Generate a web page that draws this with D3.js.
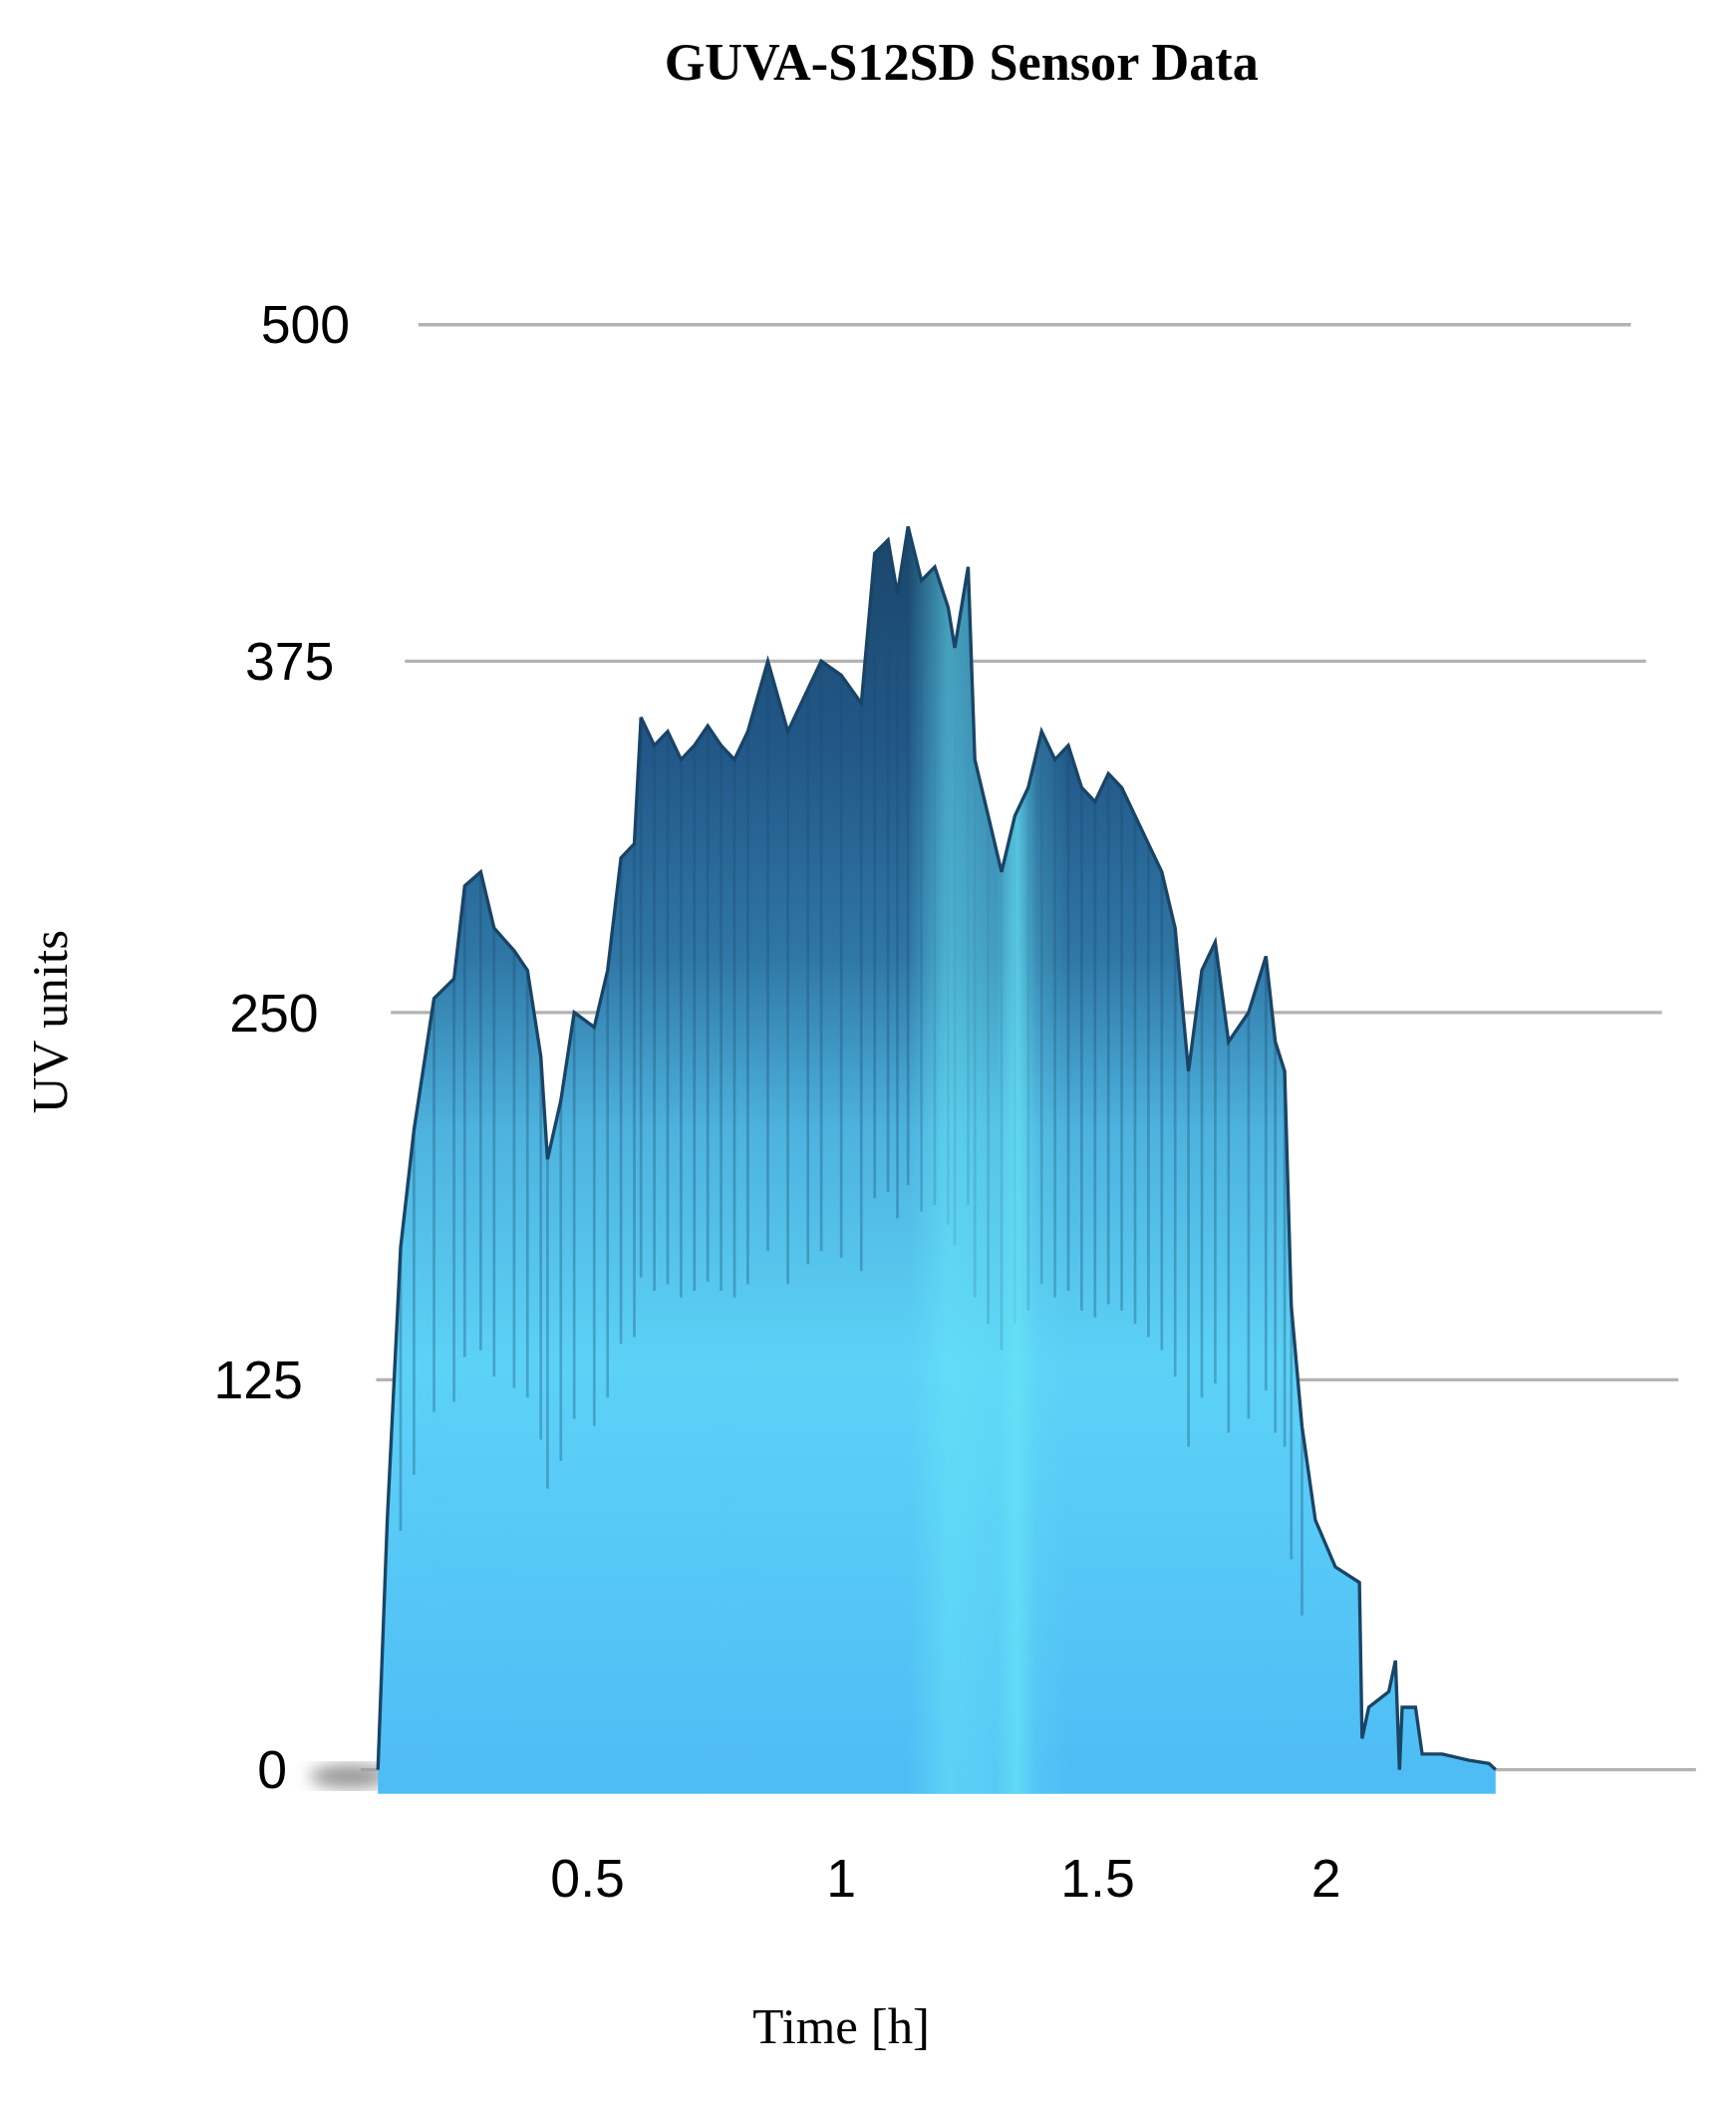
<!DOCTYPE html>
<html>
<head>
<meta charset="utf-8">
<script src="https://cdn.jsdelivr.net/npm/d3@7"></script>
<style>
  html, body { margin: 0; padding: 0; background: #fff; }
</style>
</head>
<body>
<div id="chart"></div>
<script>
// UV reading (display-x sample position converted to hours below)
var sampleX = [283, 290, 300, 310, 325, 340, 348, 360, 370, 385, 395, 405, 410, 420, 430, 445, 455, 465, 475, 480,
  490, 500, 510, 520, 530, 540, 550, 560, 575, 590, 605, 615, 630, 645, 655, 665, 672, 680, 690, 700, 710, 715, 725,
  730, 740, 750, 760, 770, 780, 790, 800, 810, 820, 830, 840, 850, 860, 870, 880, 890, 900, 910, 920, 935, 948, 955,
  962, 967, 975, 985, 1000, 1018, 1020, 1025, 1040, 1045, 1048, 1050, 1060, 1065, 1080, 1100, 1115, 1120];
var uvValues = [0, 80, 170, 210, 255, 262, 295, 300, 280, 272, 265, 235, 200, 220, 250, 245, 265, 305, 310, 355,
  345, 350, 340, 345, 352, 345, 340, 350, 375, 350, 365, 375, 370, 360, 415, 420, 400, 425, 405, 410, 395, 380, 410,
  340, 320, 300, 320, 330, 350, 340, 345, 330, 325, 335, 330, 320, 310, 300, 280, 230, 265, 275, 240, 250, 270, 240,
  230, 150, 110, 80, 65, 60, 10, 20, 25, 35, 0, 20, 20, 5, 5, 3, 2, 0];
var yTicks = [0, 125, 250, 375, 500];
var xTicks = [0.5, 1, 1.5, 2];

var W = 1300, H = 1576;
var svg = d3.select("#chart").append("svg")
  .attr("width", 1742).attr("height", 2112)
  .attr("viewBox", "0 0 " + W + " " + H);

// perspective-like spacing of the original
var y = d3.scaleLinear().domain(yTicks).range([1325, 1033, 758, 495, 243]);
var x = d3.scaleLinear().domain([0, 0.5, 1, 1.5, 2, 2.5]).range([250, 440, 630, 822, 993, 1163]);
var data = sampleX.map(function (px, i) { return { t: x.invert(px), v: uvValues[i] }; });

var defs = svg.append("defs");
var grad = defs.append("linearGradient").attr("id", "fillGrad")
  .attr("gradientUnits", "userSpaceOnUse")
  .attr("x1", 0).attr("x2", 0).attr("y1", y(0)).attr("y2", y(430));
[[0, "#4fbdf5"], [130, "#5cd2f7"], [210, "#4db3de"], [270, "#2f77a5"], [340, "#22598a"], [430, "#1a4568"]]
  .forEach(function (s) {
    grad.append("stop").attr("offset", (y(0) - y(s[0])) / (y(0) - y(430))).attr("stop-color", s[1]);
  });
// lighter band in the middle of the record
var band = defs.append("linearGradient").attr("id", "bandGrad")
  .attr("gradientUnits", "userSpaceOnUse")
  .attr("x1", 680).attr("x2", 800).attr("y1", 0).attr("y2", 0);
[[0, 0], [0.25, 0.55], [0.55, 0.35], [0.68, 0.75], [0.8, 0.2], [1, 0]].forEach(function (s) {
  band.append("stop").attr("offset", s[0]).attr("stop-color", "#66e4f7").attr("stop-opacity", s[1]);
});
var blur = defs.append("filter").attr("id", "blur").attr("x", "-50%").attr("width", "200%");
blur.append("feGaussianBlur").attr("stdDeviation", 6);

// gridlines narrowing with height
yTicks.forEach(function (d) {
  var yy = y(d);
  svg.append("line")
    .attr("x1", 270 + (1325 - yy) * 0.04).attr("x2", 1270 - (1325 - yy) * 0.045)
    .attr("y1", yy).attr("y2", yy)
    .attr("stroke", "#b3b3b3").attr("stroke-width", 2.5);
});

svg.append("ellipse").attr("cx", 262).attr("cy", 1330).attr("rx", 30).attr("ry", 9)
  .attr("fill", "#999").attr("filter", "url(#blur)");

var area = d3.area().x(function (d) { return x(d.t); }).y0(y(0) + 18).y1(function (d) { return y(d.v); });
svg.append("path").datum(data).attr("d", area).attr("fill", "url(#fillGrad)");

// streaks
svg.selectAll(".streak").data(data.filter(function (d) { return d.v > 100; })).enter().append("line")
  .attr("class", "streak")
  .attr("x1", function (d) { return x(d.t); }).attr("x2", function (d) { return x(d.t); })
  .attr("y1", function (d) { return y(d.v); }).attr("y2", function (d) { return y(d.v * 0.45); })
  .attr("stroke", "#1c4c72").attr("stroke-opacity", 0.35).attr("stroke-width", 2);

svg.append("path").datum(data).attr("d", area).attr("fill", "url(#bandGrad)");

var line = d3.line().x(function (d) { return x(d.t); }).y(function (d) { return y(d.v); });
svg.append("path").datum(data).attr("d", line)
  .attr("fill", "none").attr("stroke", "#1a4466").attr("stroke-width", 2.5);

// labels
svg.selectAll(".ytick").data(yTicks).enter().append("text")
  .attr("x", function (d) { return 262 - (500 - d) * 0.094; })
  .attr("y", function (d) { return y(d); }).attr("dy", "0.35em")
  .attr("text-anchor", "end")
  .attr("font-family", "Liberation Sans, Arial, sans-serif").attr("font-size", 40)
  .text(function (d) { return d; });

svg.selectAll(".xtick").data(xTicks).enter().append("text")
  .attr("x", function (d) { return x(d); }).attr("y", 1420)
  .attr("text-anchor", "middle")
  .attr("font-family", "Liberation Sans, Arial, sans-serif").attr("font-size", 40)
  .text(function (d) { return d; });

svg.append("text").attr("x", 720).attr("y", 60).attr("text-anchor", "middle")
  .attr("font-family", "Liberation Serif, Times New Roman, serif").attr("font-weight", "bold").attr("font-size", 39)
  .text("GUVA-S12SD Sensor Data");
svg.append("text").attr("transform", "translate(50,765) rotate(-90)").attr("text-anchor", "middle")
  .attr("font-family", "Liberation Serif, Times New Roman, serif").attr("font-size", 38)
  .text("UV units");
svg.append("text").attr("x", 630).attr("y", 1530).attr("text-anchor", "middle")
  .attr("font-family", "Liberation Serif, Times New Roman, serif").attr("font-size", 38)
  .text("Time [h]");
</script>
</body>
</html>
